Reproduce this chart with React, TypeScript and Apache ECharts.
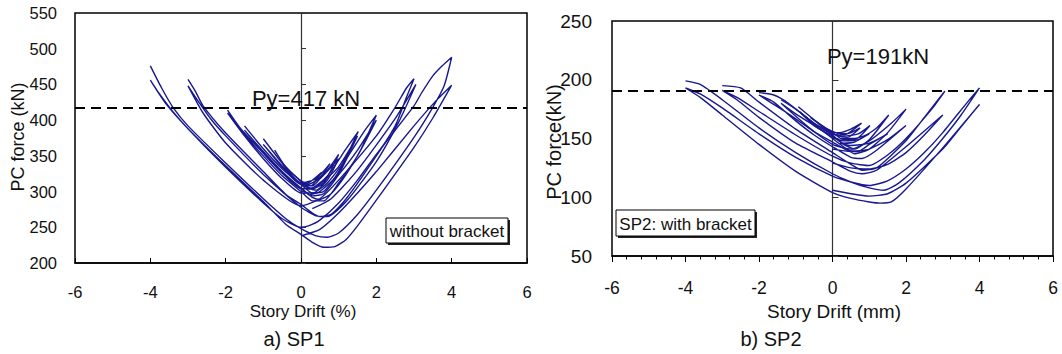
import React, { useEffect, useRef } from 'react';
import * as echarts from 'echarts';

// ---------- axis ranges / tick labels ----------
const xMin = -6;
const xMax = 6;
const xStep = 2;
const sp1YMin = 200;
const sp1YMax = 550;
const sp1YStep = 50;
const sp2YMin = 50;
const sp2YMax = 250;
const sp2YStep = 50;

// yield force reference lines
const sp1Py = 417;
const sp2Py = 191;

// texts
const sp1PyLabel = 'Py=417 kN';
const sp2PyLabel = 'Py=191kN';
const sp1XName = 'Story Drift (%)';
const sp2XName = 'Story Drift (mm)';
const sp1YName = 'PC force (kN)';
const sp2YName = 'PC force(kN)';
const sp1Title = 'a) SP1';
const sp2Title = 'b) SP2';
const sp1Note = 'without bracket';
const sp2Note = 'SP2: with bracket';

// ---------- SP1 hysteresis cycles [drift, force] ----------
const sp1Cycle4 = [
  [-4.0, 476], [-3.7, 445], [-3.4, 418], [-3.0, 392], [-2.0, 340], [-1.0, 290], [-0.4, 262], [0, 248], [0.4, 238], [0.7, 236], [1.0, 242], [1.5, 268], [2.0, 302], [3.0, 376], [3.5, 418], [3.8, 448], [4.0, 488],
  [3.75, 476], [3.5, 462], [3.2, 438], [3.0, 420], [2.0, 352], [1.5, 316], [1.0, 284], [0.5, 260], [0.2, 252], [0, 250], [-0.5, 262], [-1.0, 284], [-2.0, 334], [-3.0, 388], [-3.6, 424], [-4.0, 456],
  [-3.8, 440], [-3.4, 412], [-3.0, 388], [-2.0, 336], [-1.0, 286], [-0.4, 254], [0, 240], [0.3, 229], [0.6, 222], [0.9, 223], [1.2, 233], [1.5, 252], [2.0, 288], [3.0, 362], [3.5, 403], [4.0, 449],
  [3.6, 428], [3.0, 392], [2.0, 328], [1.5, 298], [1.0, 270], [0.5, 247], [0, 238],
];
const sp1Cycle3 = [
  [-3.0, 457], [-2.8, 440], [-2.6, 420], [-2.0, 382], [-1.0, 328], [-0.4, 296], [0, 282], [0.3, 270], [0.5, 265], [0.8, 268], [1.2, 290], [2.0, 350], [2.5, 392], [2.8, 432], [3.0, 458],
  [2.8, 445], [2.5, 418], [2.0, 378], [1.0, 316], [0.5, 290], [0, 280], [-1.0, 316], [-2.0, 368], [-2.6, 410], [-3.0, 448],
  [-2.8, 432], [-2.4, 402], [-2.0, 378], [-1.0, 324], [0, 278], [0.4, 266], [0.7, 265], [1.2, 286], [2.0, 342], [2.6, 398], [3.05, 450],
  [2.5, 402], [1.5, 330], [0.8, 290], [0.3, 276],
];
const sp1Cycle2 = [
  [-1.95, 414], [-1.6, 388], [-1.0, 354], [-0.5, 326], [0, 304], [0.3, 292], [0.5, 289], [0.8, 297], [1.2, 324], [1.6, 360], [2.0, 407],
  [1.7, 386], [1.2, 346], [0.7, 312], [0.3, 298], [0, 298], [-0.5, 318], [-1.0, 346], [-1.5, 378], [-1.95, 410],
  [-1.5, 380], [-1.0, 350], [-0.5, 322], [0, 300], [0.3, 287], [0.6, 287], [1.0, 312], [1.5, 350], [2.0, 400],
  [1.5, 358], [1.0, 324], [0.5, 300], [0.2, 295],
];
const sp1Cycle15 = [
  [-1.5, 392], [-1.0, 360], [-0.5, 332], [0, 310], [0.3, 298], [0.6, 300], [1.0, 328], [1.52, 384],
  [1.2, 360], [0.7, 322], [0.3, 305], [0, 304], [-0.5, 326], [-1.0, 354], [-1.5, 386],
  [-1.0, 356], [-0.5, 328], [0, 305], [0.3, 294], [0.6, 297], [1.0, 324], [1.5, 378],
  [1.0, 335], [0.5, 310], [0.2, 303],
];
const sp1Cycle1 = [
  [-1.0, 374], [-0.5, 340], [0, 314], [0.3, 304], [0.6, 312], [1.0, 352],
  [0.7, 330], [0.3, 312], [0, 310], [-0.5, 334], [-1.0, 366],
  [-0.5, 336], [0, 310], [0.4, 302], [0.7, 316], [1.0, 346],
  [0.5, 318], [0.2, 310],
];
const sp1Cycle05 = [
  [-0.7, 358], [-0.4, 334], [0, 315], [0.3, 308], [0.77, 339],
  [0.4, 318], [0, 312], [-0.5, 340],
  [-0.25, 322], [0, 312], [0.25, 308], [0.55, 327],
  [0.2, 312], [0, 310],
];

// ---------- SP2 hysteresis cycles [drift, force] ----------
const sp2Cycle4 = [
  [-4.0, 199], [-3.6, 196], [-3.0, 183], [-2.0, 159], [-1.0, 138], [0, 120], [0.5, 113], [1.0, 108], [1.4, 106], [1.8, 112], [2.5, 132], [3.0, 150], [3.5, 170], [4.0, 193],
  [3.7, 182], [3.0, 155], [2.5, 138], [2.0, 124], [1.5, 114], [1.0, 110], [0.5, 113], [0, 118], [-1.0, 134], [-2.0, 154], [-3.0, 176], [-3.6, 188], [-4.0, 193],
  [-3.6, 185], [-3.0, 170], [-2.0, 145], [-1.0, 122], [0, 104], [0.5, 99], [1.0, 96], [1.3, 95], [1.6, 96], [2.0, 107], [3.0, 142], [4.0, 179],
  [3.5, 160], [3.0, 141], [2.0, 112], [1.5, 103], [1.0, 101], [0.5, 103], [0, 106],
];
const sp2Cycle3 = [
  [-3.0, 195], [-2.5, 193], [-2.0, 181], [-1.0, 158], [0, 138], [0.5, 128], [0.8, 123], [1.2, 125], [2.0, 148], [2.5, 168], [3.05, 190],
  [2.7, 175], [2.0, 150], [1.5, 136], [1.0, 127], [0.5, 129], [0, 135], [-1.0, 153], [-2.0, 173], [-2.6, 185], [-3.0, 191],
  [-2.6, 183], [-2.0, 168], [-1.0, 146], [0, 130], [0.5, 122], [0.8, 120], [1.2, 123], [2.0, 143], [3.0, 170],
  [2.5, 153], [2.0, 138], [1.5, 128], [1.0, 124], [0.5, 125], [0, 129],
];
const sp2Cycle2 = [
  [-2.0, 189], [-1.6, 187], [-1.2, 180], [-0.6, 165], [0, 150], [0.3, 143], [0.6, 137], [1.0, 141], [1.5, 155], [2.0, 175],
  [1.6, 163], [1.0, 148], [0.5, 141], [0, 145], [-0.6, 158], [-1.2, 171], [-1.7, 181], [-2.0, 187],
  [-1.6, 181], [-1.0, 165], [-0.5, 153], [0, 143], [0.5, 134], [0.8, 133], [1.2, 140], [2.0, 161],
  [1.5, 149], [1.0, 141], [0.5, 139], [0, 141],
];
const sp2Cycle15 = [
  [-1.4, 183], [-1.0, 175], [-0.5, 163], [0, 153], [0.3, 145], [0.6, 141], [1.0, 149], [1.53, 170],
  [1.2, 159], [0.7, 149], [0.3, 148], [0, 151], [-0.5, 161], [-1.0, 171], [-1.4, 180],
  [-1.0, 169], [-0.5, 156], [0, 147], [0.4, 140], [0.7, 139], [1.0, 145], [1.5, 154],
  [1.0, 146], [0.5, 144], [0.2, 146],
];
const sp2Cycle1 = [
  [-0.93, 177], [-0.5, 166], [0, 155], [0.3, 149], [0.6, 149], [1.02, 161],
  [0.7, 154], [0.3, 152], [0, 154], [-0.5, 163], [-0.9, 173],
  [-0.5, 161], [0, 152], [0.3, 146], [0.6, 147], [1.0, 154],
  [0.6, 150], [0.2, 150],
];
const sp2Cycle075 = [
  [-0.6, 168], [-0.3, 161], [0, 156], [0.3, 153], [0.79, 163],
  [0.5, 158], [0.2, 155], [0, 155], [-0.4, 163],
  [-0.2, 158], [0.1, 153], [0.4, 151], [0.75, 159],
  [0.4, 154], [0.1, 154],
];

const sp1Cycles = [sp1Cycle4, sp1Cycle3, sp1Cycle2, sp1Cycle15, sp1Cycle1, sp1Cycle05];
const sp2Cycles = [sp2Cycle4, sp2Cycle3, sp2Cycle2, sp2Cycle15, sp2Cycle1, sp2Cycle075];

const FONT = "'Liberation Sans', Arial, sans-serif";
const LINE_COLOR = '#18188f';
const TEXT_COLOR = '#111';

export default function App() {
  const ref = useRef<HTMLDivElement>(null);

  useEffect(() => {
    document.body.style.margin = '0';
    const chart = echarts.init(ref.current as HTMLDivElement, null, { renderer: 'svg' });

    const cycleSeries = (cycles: number[][][], gridIdx: number, py: number) =>
      cycles.map((data, i) => ({
        type: 'line',
        xAxisIndex: gridIdx,
        yAxisIndex: gridIdx * 2,
        data,
        symbol: 'none',
        showSymbol: false,
        smooth: 0.2,
        silent: true,
        z: 3,
        lineStyle: { color: LINE_COLOR, width: 1.4 },
        markLine:
          i === 0
            ? {
                silent: true,
                symbol: 'none',
                label: { show: false },
                lineStyle: { color: '#000', width: 2, type: [10, 6] },
                data: [{ yAxis: py }],
              }
            : undefined,
      }));

    const labelYAxis = (gridIndex: number, min: number, max: number, step: number, fontSize: number, margin: number, shift: number) => ({
      gridIndex,
      type: 'value',
      min,
      max,
      interval: step,
      position: 'left',
      axisLine: { show: false, onZero: false },
      axisTick: { show: false },
      splitLine: { show: false },
      axisLabel: { fontSize, color: TEXT_COLOR, fontFamily: FONT, margin, padding: [shift, 0, 0, 0] },
    });
    const zeroYAxis = (gridIndex: number, min: number, max: number, step: number, tick: number) => ({
      gridIndex,
      type: 'value',
      min,
      max,
      interval: step,
      position: 'left',
      axisLine: { show: true, onZero: true, lineStyle: { color: '#333', width: 1.2 } },
      axisTick: { show: true, inside: true, length: tick, lineStyle: { color: '#333', width: 1 } },
      axisLabel: { show: false },
      splitLine: { show: false },
    });

    const txt = (x: number, y: number, text: string, fontSize: number, extra: any = {}) => ({
      type: 'text',
      x,
      y,
      z: 100,
      ...extra,
      style: {
        text,
        fontSize,
        fontFamily: FONT,
        fill: TEXT_COLOR,
        textAlign: 'center',
        textVerticalAlign: 'middle',
      },
    });
    const noteBox = (x: number, y: number, w: number, h: number, text: string) => [
      { type: 'rect', z: 99, shape: { x: x + 2, y: y + 2, width: w, height: h }, style: { fill: '#222' } },
      { type: 'rect', z: 99, shape: { x, y, width: w, height: h }, style: { fill: '#fff', stroke: '#000', lineWidth: 1 } },
      txt(x + w / 2, y + h / 2 + 1, text, 17),
    ];

    chart.setOption({
      animation: false,
      backgroundColor: '#fff',
      grid: [
        { left: 75, top: 13, width: 452, height: 250, show: true, borderColor: '#000', borderWidth: 1.5 },
        { left: 612, top: 21, width: 441, height: 235, show: true, borderColor: '#000', borderWidth: 1.5 },
      ],
      xAxis: [
        {
          gridIndex: 0,
          type: 'value',
          min: xMin,
          max: xMax,
          interval: xStep,
          axisLine: { show: true, onZero: false, lineStyle: { color: '#000', width: 1.5 } },
          axisTick: { show: true, inside: true, length: 5, lineStyle: { color: '#000' } },
          axisLabel: { fontSize: 16.5, color: TEXT_COLOR, fontFamily: FONT, margin: 20 },
          splitLine: { show: false },
        },
        {
          gridIndex: 1,
          type: 'value',
          min: xMin,
          max: xMax,
          interval: xStep,
          axisLine: { show: true, onZero: false, lineStyle: { color: '#000', width: 1.5 } },
          axisTick: { show: true, inside: false, length: 6, lineStyle: { color: '#000' } },
          minorTick: { show: true, splitNumber: 5, length: 3.5, lineStyle: { color: '#000' } },
          axisLabel: { fontSize: 17.5, color: TEXT_COLOR, fontFamily: FONT, margin: 23 },
          splitLine: { show: false },
          minorSplitLine: { show: false },
        },
      ],
      yAxis: [
        labelYAxis(0, sp1YMin, sp1YMax, sp1YStep, 16.5, 18, 10),
        zeroYAxis(0, sp1YMin, sp1YMax, sp1YStep, 5),
        labelYAxis(1, sp2YMin, sp2YMax, sp2YStep, 19, 20, 12),
        zeroYAxis(1, sp2YMin, sp2YMax, sp2YStep, 6),
      ],
      series: [...cycleSeries(sp1Cycles, 0, sp1Py), ...cycleSeries(sp2Cycles, 1, sp2Py)],
      graphic: [
        txt(306, 98, sp1PyLabel, 22),
        txt(878, 56, sp2PyLabel, 22),
        txt(303, 311, sp1XName, 17),
        txt(834, 311, sp2XName, 19),
        txt(294, 339, sp1Title, 20),
        txt(771, 339, sp2Title, 20),
        txt(17.5, 137, sp1YName, 18, { rotation: Math.PI / 2 }),
        txt(554, 142, sp2YName, 20, { rotation: Math.PI / 2 }),
        ...noteBox(386, 218, 122, 25, sp1Note),
        ...noteBox(616, 210, 139, 26, sp2Note),
      ],
    });

    return () => chart.dispose();
  }, []);

  return <div ref={ref} style={{ width: 1062, height: 354 }} />;
}
